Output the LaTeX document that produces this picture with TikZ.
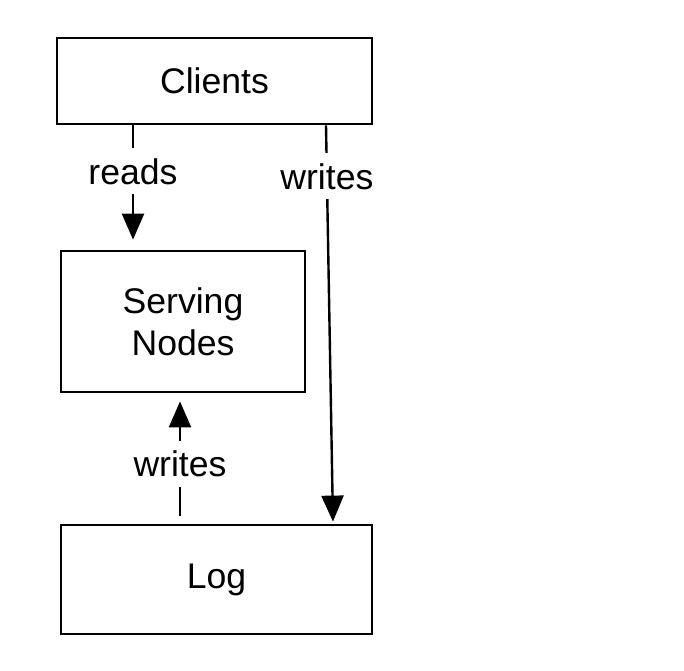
\documentclass[tikz,border=0pt]{standalone}
\usepackage{fontspec}
\setmainfont{Liberation Sans}
\usetikzlibrary{arrows.meta}
\tikzset{
  box/.style={draw, line width=1.4pt, inner sep=0pt, align=center, font=\fontsize{17.8}{21}\selectfont},
  arr/.style={line width=1.2pt, -{Triangle[length=13pt,width=11pt]}},
  lbl/.style={fill=white, inner xsep=1pt, inner ysep=5pt, font=\fontsize{17.8}{21}\selectfont}
}
\begin{document}
\begin{tikzpicture}[x=0.5pt,y=-0.5pt]
\useasboundingbox (0,0) rectangle (684,670);
\node[box, minimum width=157.5pt, minimum height=43pt] (clients) at (214.5,81) {Clients};
\node[box, minimum width=122pt, minimum height=70.5pt] (serving) at (183,321.5) {Serving\\Nodes};
\node[box, minimum width=155.5pt, minimum height=54.5pt] (log) at (216.5,579.5) {Log};
\draw[arr, shorten >=5pt] ([xshift=-40.75pt]clients.south) -- node[lbl, pos=0.37] {reads} ([xshift=-25pt]serving.north);
\draw[arr, shorten >=1pt] ([xshift=55.75pt]clients.south) -- node[lbl, pos=0.128] {writes} ([xshift=58.25pt]log.north);
\draw[arr, shorten <=4pt, shorten >=4pt] ([xshift=-18.25pt]log.north) -- node[lbl, pos=0.46] {writes} ([xshift=-1.5pt]serving.south);
\end{tikzpicture}
\end{document}
